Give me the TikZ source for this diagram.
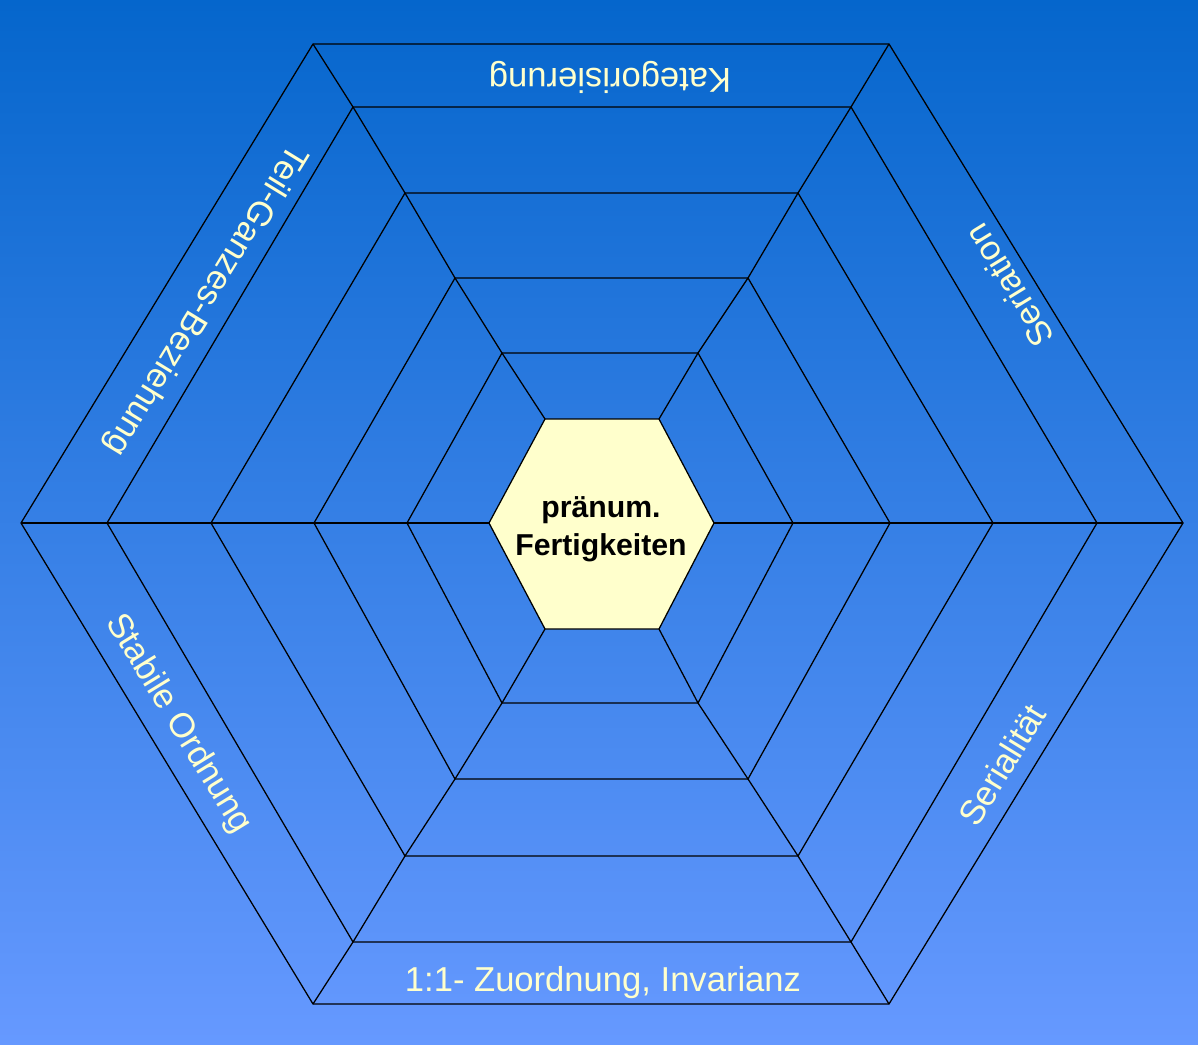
\documentclass[tikz,border=0pt]{standalone}
\usepackage{fontspec}
\setmainfont{Liberation Sans}
\usetikzlibrary{positioning}
\definecolor{bgtop}{RGB}{5,102,204}
\definecolor{bgbot}{RGB}{102,153,255}
\definecolor{cream}{RGB}{255,255,204}

\begin{document}
\begin{tikzpicture}[x=0.025cm, y=-0.025cm,
    ring/.style={draw=black, line width=0.9pt, line join=miter},
    core/.style={ring, fill=cream},
    lbl/.style={inner sep=0pt, text=cream, font=\fontsize{24.6}{29}\selectfont},
    ctr/.style={inner sep=0pt, anchor=base, text=black, font=\fontsize{21.5}{26}\selectfont\bfseries}
]
    % Background
    \useasboundingbox (0,0) rectangle (1198,1045);
    \shade[top color=bgtop, bottom color=bgbot] (0,0) rectangle (1198,1045);

    % Corners of the six rings, outer to inner
    \foreach \i/\l/\r/\tl/\tr/\t/\b in {1/21/1183/313/889/44/1004, 2/107/1097/353/851/107/942, 3/211/993/405/798/193/856, 4/314/890/455/748/278/779, 5/407/793/502/698/353/703, 6/489/714/545/659/419/629} {
        \coordinate (h\i-l) at (\l,523);
        \coordinate (h\i-r) at (\r,523);
        \coordinate (h\i-tl) at (\tl,\t);
        \coordinate (h\i-tr) at (\tr,\t);
        \coordinate (h\i-bl) at (\tl,\b);
        \coordinate (h\i-br) at (\tr,\b);
    }

    % Rings
    \foreach \i in {1,...,5}
        \draw[ring] (h\i-l) -- (h\i-tl) -- (h\i-tr) -- (h\i-r) -- (h\i-br) -- (h\i-bl) -- cycle;

    % Spokes between the rings
    \foreach \i [evaluate=\i as \j using int(\i+1)] in {1,...,5}
        \foreach \c in {l,tl,tr,r,br,bl}
            \draw[ring] (h\i-\c) -- (h\j-\c);

    % Yellow core
    \draw[core] (h6-l) -- (h6-tl) -- (h6-tr) -- (h6-r) -- (h6-br) -- (h6-bl) -- cycle;
    \node[ctr] (pre) at (601,517) {pränum.};
    \node[ctr] (fert) at (601,555) {Fertigkeiten};

    % Labels in the outer band
    \node[lbl, rotate=180] (kat) at (610,77) {Kategorisierung};
    \node[lbl, rotate=121.5] (ser) at (1009,286) {Seriation};
    \node[lbl, rotate=58.5] (seri) at (1002,765) {Serialität};
    \node[lbl] (zuo) at (603,983) {1:1- Zuordnung, Invarianz};
    \node[lbl, rotate=-58.5] (stab) at (178,724) {Stabile Ordnung};
    \node[lbl, rotate=238.5] (teil) at (205,300) {Teil-Ganzes-Beziehung};
\end{tikzpicture}
\end{document}
